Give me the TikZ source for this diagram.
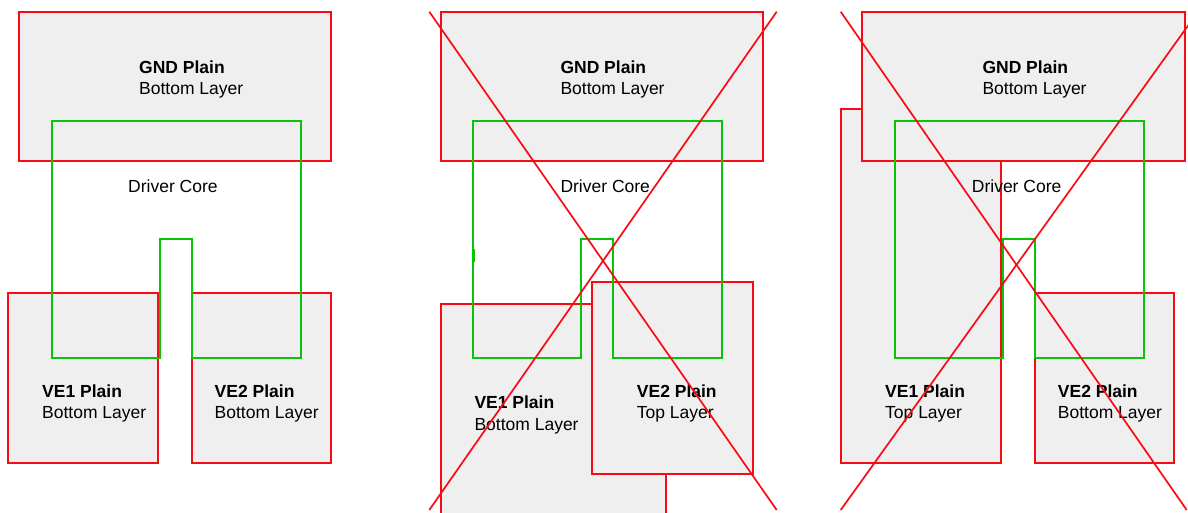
\documentclass[tikz,border=0pt]{standalone}
\usepackage{fontspec}
\setmainfont{Liberation Sans}
\definecolor{planred}{RGB}{250,10,20}
\definecolor{coregreen}{RGB}{10,195,10}
\definecolor{planfill}{RGB}{239,239,239}
\begin{document}
\begin{tikzpicture}[x=1pt,y=-1pt]
	\tikzset{plan/.style={draw=planred, fill=planfill, line width=2pt},
	coeur/.style={draw=coregreen, line width=2pt},
	croix/.style={draw=planred, line width=1.7pt},
	nom/.style={anchor=base west, inner sep=0pt, font=\fontsize{17.5}{21}\selectfont\bfseries},
	couche/.style={anchor=base west, inner sep=0pt, font=\fontsize{17.5}{21}\selectfont}};

	\useasboundingbox (0,0) rectangle (1188,512);

	% first layout
	\draw[plan] (19,12) rectangle (331,161);
	\draw[plan] (8,293) rectangle (158,463);
	\draw[plan] (192,293) rectangle (331,463);

	% second layout
	\draw[plan] (440.7,12) rectangle (763.3,161);
	\draw[plan] (440.7,304) rectangle (665.7,540);
	\draw[plan] (592,282.3) rectangle (752.7,474);

	% third layout
	\draw[plan] (840.7,109.3) rectangle (1001,463.3);
	\draw[plan] (862,12) rectangle (1185,161);
	\draw[plan] (1035.3,293.3) rectangle (1174,463.3);

	% driver core outline
	\foreach \cx in {52, 473.3, 895}{
		\draw[coeur] (\cx,121) -| ({\cx+249},358) -| ({\cx+140},239) -| ({\cx+108},358) -| cycle;
	}
	\draw[coeur, line width=3pt] (473.3,249) -- (473.3,262);

	\foreach \x/\y/\nom/\couche/\id in {139/73/GND/Bottom/g1, 560.3/73/GND/Bottom/g2, 982.3/73/GND/Bottom/g3,
		42/397/VE1/Bottom/a1, 214.5/397/VE2/Bottom/b1,
		474.3/408.5/VE1/Bottom/a2, 636.7/397/VE2/Top/b2,
		885/397/VE1/Top/a3, 1057.7/397/VE2/Bottom/b3}{
		\node[nom] (\id) at (\x,\y) {\nom\ Plain};
		\node[couche] (\id l) at (\x,{\y+21.5}) {\couche\ Layer};
	}

	\foreach \x/\id in {128/c1, 560.3/c2, 971.7/c3}{
		\node[couche] (\id) at (\x,192) {Driver Core};
	}

	% crossed out layouts
	\coordinate (x2a) at (429.3,11.7);
	\coordinate (x2b) at (776.7,510);
	\coordinate (x2c) at (776.7,11.7);
	\coordinate (x2d) at (429.3,510);
	\draw[croix] (x2a) -- (x2b);
	\draw[croix] (x2c) -- (x2d);

	\coordinate (x3a) at (840.7,11.7);
	\coordinate (x3b) at (1186.7,510);
	\coordinate (x3c) at (1198,11.7);
	\coordinate (x3d) at (840.7,510);
	\draw[croix] (x3a) -- (x3b);
	\draw[croix] (x3c) -- (x3d);

\end{tikzpicture}
\end{document}
